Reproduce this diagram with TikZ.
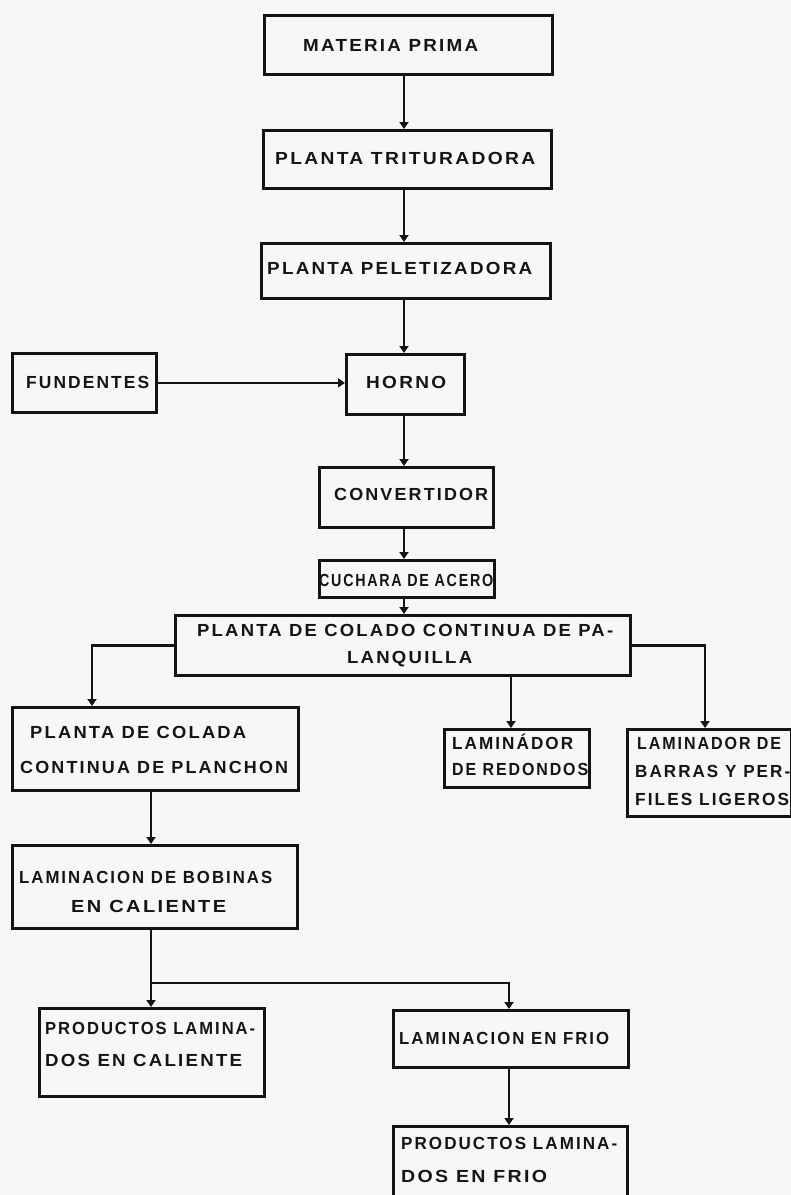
\documentclass[tikz,border=0pt]{standalone}
\usepackage{fontspec}
\setmainfont{Liberation Sans}
\usepackage{graphicx}
\usetikzlibrary{arrows.meta}
\newcommand{\tl}[2]{\resizebox{#1pt}{\height}{#2}}
\begin{document}
\begin{tikzpicture}[x=1pt,y=-1pt,
  box/.style={draw=black!92, line width=2.8pt, inner sep=0pt, anchor=north west},
  txt/.style={inner sep=0pt, anchor=west, text height=12.5pt, text depth=0pt, font=\fontsize{17.5}{17.5}\selectfont\bfseries\addfontfeature{LetterSpace=12}, text=black!92},
  arr/.style={draw=black!92, line width=2.2pt, -{Triangle[length=7pt,width=9pt]}}]
\fill[white!97!black] (0,0) rectangle (791,1195);
\useasboundingbox (0,0) rectangle (791,1195);
% boxes
\node[box, minimum width=288pt, minimum height=59pt] (mp) at (263,14) {};
\node[box, minimum width=288pt, minimum height=58pt] (tt) at (262,129) {};
\node[box, minimum width=289pt, minimum height=55pt] (pel) at (260,242) {};
\node[box, minimum width=118pt, minimum height=60pt] (hor) at (345,353) {};
\node[box, minimum width=144pt, minimum height=59pt] (fun) at (11,352) {};
\node[box, minimum width=174pt, minimum height=60pt] (conv) at (318,466) {};
\node[box, minimum width=175pt, minimum height=37pt] (cuch) at (318,559) {};
\node[box, minimum width=455pt, minimum height=60pt] (col) at (174,614) {};
\node[box, minimum width=286pt, minimum height=83pt] (plan) at (11,706) {};
\node[box, minimum width=145pt, minimum height=58pt] (red) at (443,728) {};
\node[box, minimum width=164pt, minimum height=87pt] (bar) at (626,728) {};
\node[box, minimum width=285pt, minimum height=83pt] (bob) at (11,844) {};
\node[box, minimum width=225pt, minimum height=88pt] (pcal) at (38,1007) {};
\node[box, minimum width=235pt, minimum height=57pt] (frio) at (392,1009) {};
\node[box, minimum width=234pt, minimum height=80pt] (pfr) at (392,1125) {};
% texts
\node[txt] (t1) at (303,45) {\tl{175}{MATERIA PRIMA}};
\node[txt] (t2) at (275,158) {\tl{260}{PLANTA TRITURADORA}};
\node[txt] (t3) at (267,268) {\tl{265}{PLANTA PELETIZADORA}};
\node[txt] (t4) at (26,382) {\tl{123}{FUNDENTES}};
\node[txt] (t5) at (366,382) {\tl{80}{HORNO}};
\node[txt] (t6) at (334,494) {\tl{154}{CONVERTIDOR}};
\node[txt] (t7) at (319,580) {\tl{174}{CUCHARA DE ACERO}};
\node[txt] (t8) at (197,630) {\tl{416}{PLANTA DE COLADO CONTINUA DE PA-}};
\node[txt] (t9) at (347,657) {\tl{125}{LANQUILLA}};
\node[txt] (t10) at (30,732) {\tl{216}{PLANTA DE COLADA}};
\node[txt] (t11) at (20,767) {\tl{268}{CONTINUA DE PLANCHON}};
\node[txt] (t12) at (452,743) {\tl{121}{LAMINÁDOR}};
\node[txt] (t13) at (452,769) {\tl{136}{DE REDONDOS}};
\node[txt] (t14) at (637,743) {\tl{144}{LAMINADOR DE}};
\node[txt] (t15) at (635,771) {\tl{155}{BARRAS Y PER-}};
\node[txt] (t16) at (635,799) {\tl{154}{FILES LIGEROS}};
\node[txt] (t17) at (19,877) {\tl{253}{LAMINACION DE BOBINAS}};
\node[txt] (t18) at (71,906) {\tl{155}{EN CALIENTE}};
\node[txt] (t19) at (45,1028) {\tl{210}{PRODUCTOS LAMINA-}};
\node[txt] (t20) at (45,1060) {\tl{197}{DOS EN CALIENTE}};
\node[txt] (t21) at (399,1038) {\tl{210}{LAMINACION EN FRIO}};
\node[txt] (t22) at (401,1143) {\tl{216}{PRODUCTOS LAMINA-}};
\node[txt] (t23) at (401,1176) {\tl{146}{DOS EN FRIO}};
% guide coordinates
\coordinate (sp) at (404,0);
\coordinate (lx) at (92,0);
\coordinate (mx) at (511,0);
\coordinate (rx) at (705,0);
\coordinate (bx) at (151,0);
\coordinate (fx) at (509,0);
\coordinate (br) at (151,983);
% connectors
\draw[arr] (mp.south -| sp) -- (tt.north -| sp);
\draw[arr] (tt.south -| sp) -- (pel.north -| sp);
\draw[arr] (pel.south -| sp) -- (hor.north -| sp);
\draw[arr] (fun.east) -- (fun.east -| hor.west);
\draw[arr] (hor.south -| sp) -- (conv.north -| sp);
\draw[arr] (conv.south -| sp) -- (cuch.north -| sp);
\draw[arr] (cuch.south -| sp) -- (col.north -| sp);
\draw[arr] (col.west) -| (plan.north -| lx);
\draw[arr] (col.south -| mx) -- (red.north -| mx);
\draw[arr] (col.east) -| (bar.north -| rx);
\draw[arr] (plan.south -| bx) -- (bob.north -| bx);
\draw[arr] (bob.south -| bx) -- (pcal.north -| bx);
\draw[arr] (br) -| (frio.north -| fx);
\draw[arr] (frio.south -| fx) -- (pfr.north -| fx);
\end{tikzpicture}
\end{document}
